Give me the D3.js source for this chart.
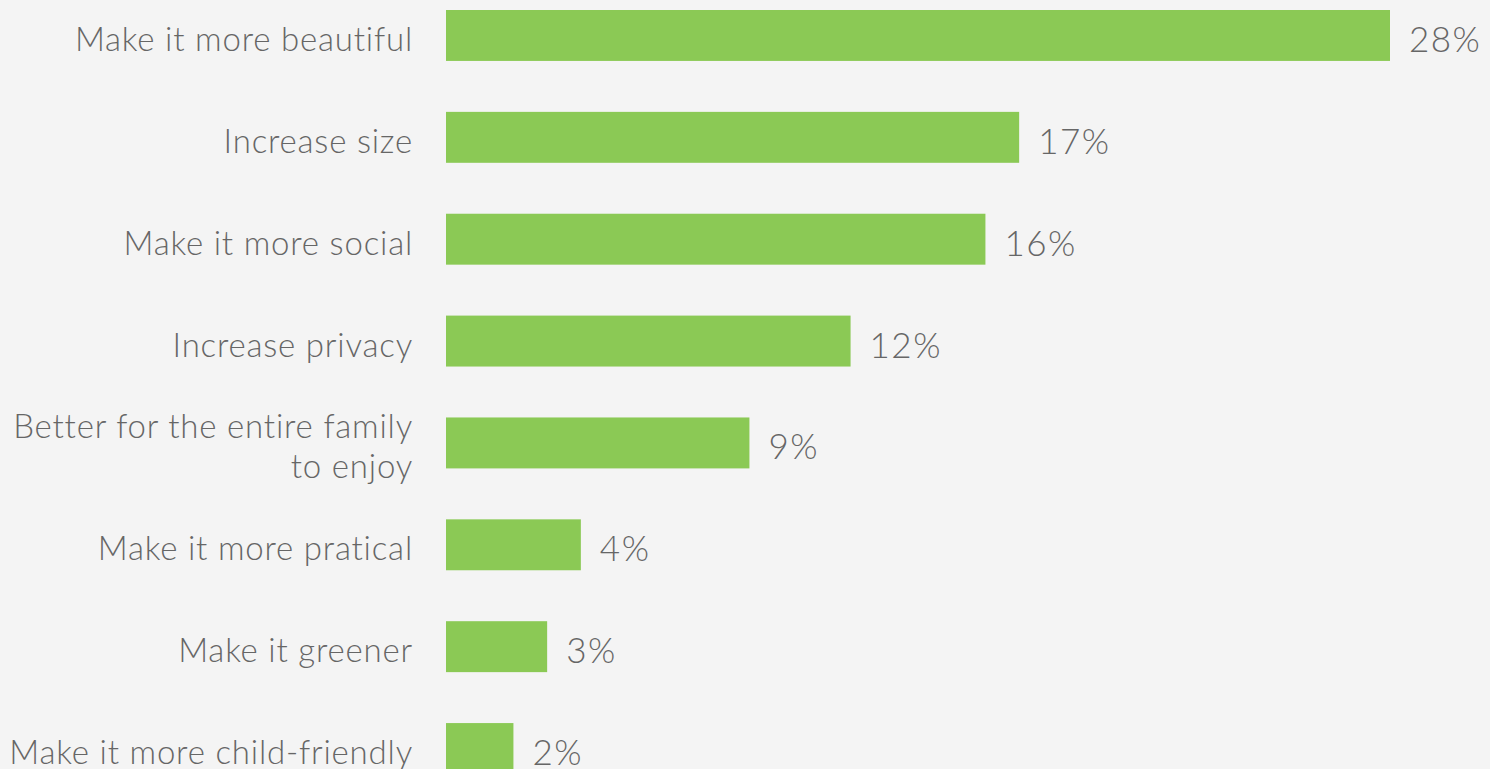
<!DOCTYPE html>
<html>
<head>
<meta charset="utf-8">
<script src="https://cdn.jsdelivr.net/npm/d3@7"></script>
<style>
  html, body { margin: 0; padding: 0; background: #f4f4f4; overflow: hidden; }
  svg { display: block; }
  text { font-family: Lato, "Open Sans", sans-serif; font-weight: 300; fill: #666; }
</style>
</head>
<body>
<svg id="chart" width="1490" height="769"></svg>
<script>
// Survey answers: what would improve the space
const categories = [
  "Make it more beautiful",
  "Increase size",
  "Make it more social",
  "Increase privacy",
  "Better for the entire family|to enjoy",
  "Make it more pratical",
  "Make it greener",
  "Make it more child-friendly"
];
const values = [28, 17, 16, 12, 9, 4, 3, 2];
const valueLabels = ["28%", "17%", "16%", "12%", "9%", "4%", "3%", "2%"];

const svg = d3.select("#chart");

const x = d3.scaleLinear().domain([0, 28]).range([446, 1390]);
const y = d3.scaleBand().domain(categories).range([10, 774]).paddingInner(0.5).paddingOuter(0);

const rows = svg.selectAll("g.row")
  .data(categories.map((c, i) => ({ c, v: values[i], label: valueLabels[i] })))
  .join("g")
  .attr("class", "row");

rows.append("rect")
  .attr("x", x(0))
  .attr("y", d => y(d.c))
  .attr("width", d => x(d.v) - x(0))
  .attr("height", y.bandwidth())
  .attr("fill", "#8bc955");

rows.append("text")
  .attr("x", d => x(d.v) + 19)
  .attr("y", d => y(d.c) + y.bandwidth() / 2 + 16.5)
  .attr("font-size", 35)
  .attr("letter-spacing", 1.5)
  .text(d => d.label);

rows.each(function (d) {
  const lines = d.c.split("|");
  const cy = y(d.c) + y.bandwidth() / 2;
  const lh = 40;
  const t = d3.select(this).append("text")
    .attr("text-anchor", "end")
    .attr("font-size", 33)
    .attr("letter-spacing", 0.8);
  lines.forEach((ln, k) => {
    t.append("tspan")
      .attr("x", 413)
      .attr("y", cy + 15.5 + (k - (lines.length - 1) / 2) * lh)
      .text(ln);
  });
});
</script>
</body>
</html>
